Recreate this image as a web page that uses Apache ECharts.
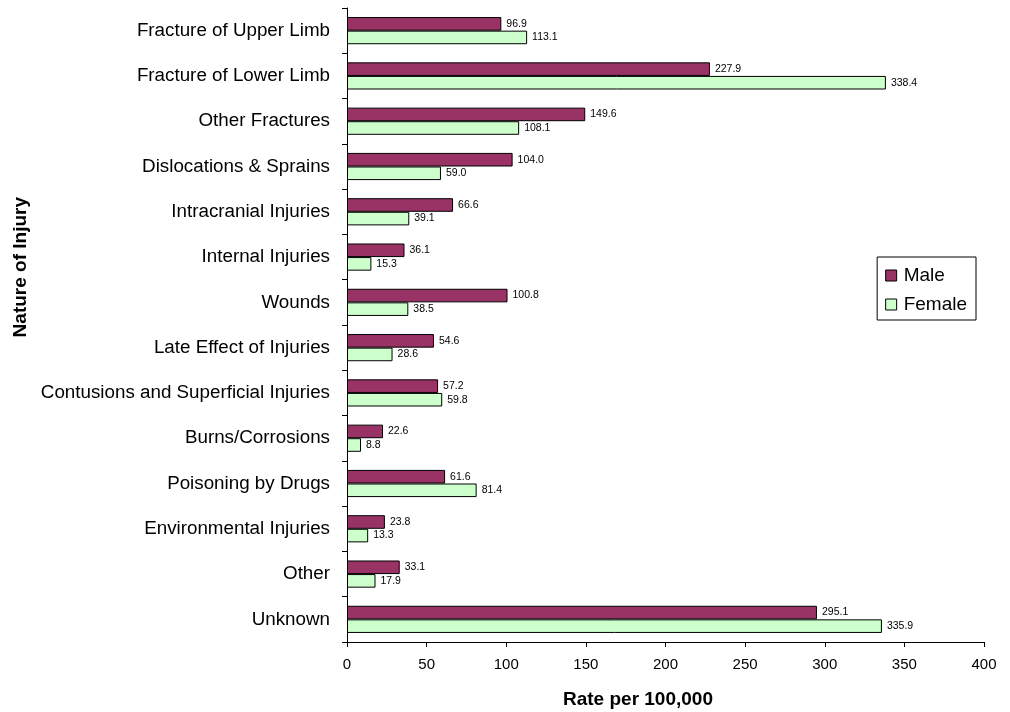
<!DOCTYPE html>
<html>
<head>
<meta charset="utf-8">
<script src="https://cdn.jsdelivr.net/npm/echarts@6/dist/echarts.min.js"></script>
<style>
  html, body { margin: 0; padding: 0; background: #fff; }
  #chart { width: 1010px; height: 712px; }
</style>
</head>
<body>
<div id="chart"></div>
<script>
// Injury categories, listed top to bottom
const categories = [
  'Fracture of Upper Limb',
  'Fracture of Lower Limb',
  'Other Fractures',
  'Dislocations & Sprains',
  'Intracranial Injuries',
  'Internal Injuries',
  'Wounds',
  'Late Effect of Injuries',
  'Contusions and Superficial Injuries',
  'Burns/Corrosions',
  'Poisoning by Drugs',
  'Environmental Injuries',
  'Other',
  'Unknown'
];

// Rates per 100,000
const maleRates = [96.9, 227.9, 149.6, 104.0, 66.6, 36.1, 100.8, 54.6, 57.2, 22.6, 61.6, 23.8, 33.1, 295.1];
const femaleRates = [113.1, 338.4, 108.1, 59.0, 39.1, 15.3, 38.5, 28.6, 59.8, 8.8, 81.4, 13.3, 17.9, 335.9];

const xTicks = { min: 0, max: 400, interval: 50 };

const FONT = '"Liberation Sans", Arial, sans-serif';

const chart = echarts.init(document.getElementById('chart'));

const valueLabel = {
  show: true,
  position: 'right',
  distance: 5,
  color: '#000',
  fontSize: 10.5,
  fontFamily: FONT,
  formatter: p => p.value.toFixed(1)
};

chart.setOption({
  animation: false,
  backgroundColor: '#fff',
  textStyle: { fontFamily: FONT },
  grid: { left: 347, right: 26, top: 8, bottom: 70, containLabel: false },
  legend: {
    orient: 'vertical',
    right: 34,
    top: 257,
    icon: 'rect',
    itemWidth: 11,
    itemHeight: 11,
    itemGap: 10,
    padding: [9, 9, 6, 8],
    borderColor: '#000',
    borderWidth: 1,
    backgroundColor: '#fff',
    itemStyle: { borderColor: '#000', borderWidth: 1 },
    textStyle: { fontSize: 19, color: '#000', padding: [0, 0, 0, 2] },
    data: ['Male', 'Female']
  },
  xAxis: {
    type: 'value',
    min: xTicks.min,
    max: xTicks.max,
    interval: xTicks.interval,
    axisLine: { show: true, lineStyle: { color: '#000', width: 1 } },
    axisTick: { show: true, length: 5, lineStyle: { color: '#000' } },
    axisLabel: { color: '#000', fontSize: 15, margin: 15 },
    splitLine: { show: false }
  },
  yAxis: {
    type: 'category',
    inverse: true,
    data: categories,
    axisLine: { show: true, lineStyle: { color: '#000', width: 1 } },
    axisTick: { show: true, length: 5, lineStyle: { color: '#000' } },
    axisLabel: { color: '#000', fontSize: 18.8, margin: 17 }
  },
  graphic: [
    {
      type: 'text',
      left: 11,
      top: 197,
      rotation: Math.PI / 2,
      style: {
        text: 'Nature of Injury',
        fontSize: 19,
        fontWeight: 'bold',
        fill: '#000',
        fontFamily: FONT
      }
    },
    {
      type: 'text',
      left: 563,
      top: 690,
      style: {
        text: 'Rate per 100,000',
        fontSize: 19,
        fontWeight: 'bold',
        fill: '#000',
        fontFamily: FONT
      }
    }
  ],
  series: [
    {
      name: 'Male',
      type: 'bar',
      data: maleRates,
      barGap: '0%',
      barCategoryGap: '40%',
      itemStyle: { color: '#993366', borderColor: '#000', borderWidth: 1 },
      label: valueLabel
    },
    {
      name: 'Female',
      type: 'bar',
      data: femaleRates,
      barGap: '0%',
      barCategoryGap: '40%',
      itemStyle: { color: '#CCFFCC', borderColor: '#000', borderWidth: 1 },
      label: valueLabel
    }
  ]
});
</script>
</body>
</html>
